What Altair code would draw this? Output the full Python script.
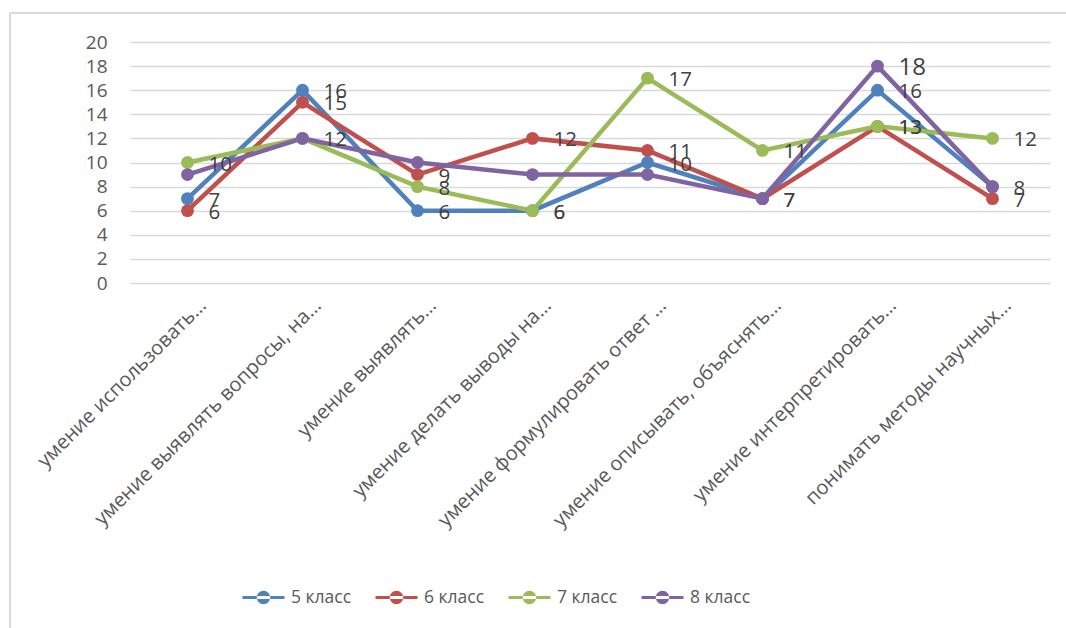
import altair as alt
import pandas as pd

# Skill categories on the x axis (labels shortened with an ellipsis)
categories = [
    "умение использовать…",
    "умение выявлять вопросы, на…",
    "умение выявлять…",
    "умение делать выводы на…",
    "умение формулировать ответ …",
    "умение описывать, объяснять…",
    "умение интерпретировать…",
    "понимать методы научных…",
]
series_names = ["5 класс", "6 класс", "7 класс", "8 класс"]
grade5 = [7, 16, 6, 6, 10, 7, 16, 8]
grade6 = [6, 15, 9, 12, 11, 7, 13, 7]
grade7 = [10, 12, 8, 6, 17, 11, 13, 12]
grade8 = [9, 12, 10, 9, 9, 7, 18, 8]
# value labels shown per series (8 класс only carries its peak label)
show_labels = {
    "5 класс": [True] * 8,
    "6 класс": [True] * 8,
    "7 класс": [True] * 8,
    "8 класс": [False, False, False, False, False, False, True, False],
}
colors = ["#4f81bd", "#c0504d", "#9bbb59", "#8064a2"]
y_ticks = list(range(0, 21, 2))

rows = []
for s_idx, (name, vals) in enumerate(zip(series_names, [grade5, grade6, grade7, grade8])):
    for c_idx, (cat, v) in enumerate(zip(categories, vals)):
        rows.append({
            "category": cat,
            "series": name,
            "value": v,
            "order": s_idx,
            "label": show_labels[name][c_idx],
            "big": name == "8 класс",
        })
df = pd.DataFrame(rows)

FONT = "Open Sans"
TEXT = "#595959"

x_enc = alt.X(
    "category:N",
    sort=categories,
    scale=alt.Scale(type="point", padding=0.5),
    axis=alt.Axis(
        title=None, labelAngle=-45, labelAlign="right", labelBaseline="middle",
        labelPadding=19, labelOffset=15, ticks=False, domain=False, grid=False,
        labelFont=FONT, labelFontSize=20, labelColor=TEXT, labelLimit=400,
    ),
)
y_enc = alt.Y(
    "value:Q",
    scale=alt.Scale(domain=[0, 20], nice=False),
    axis=alt.Axis(
        title=None, values=y_ticks, ticks=False, domain=False,
        gridColor="#d9d9d9", gridWidth=1.5, labelPadding=23,
        labelFont=FONT, labelFontSize=19, labelColor=TEXT,
    ),
)
color_scale = alt.Scale(domain=series_names, range=colors)

# line + circle legend glyph
legend_path = (
    "M-2,-0.15H2V0.15H-2Z "
    "M-0.64,0A0.64,0.64 0 1,0 0.64,0A0.64,0.64 0 1,0 -0.64,0Z"
)
legend = alt.Legend(
    title=None, orient="none", direction="horizontal",
    legendX=123, legendY=545, padding=0,
    symbolType=legend_path, symbolSize=441, symbolStrokeWidth=0,
    symbolOpacity=1,
    labelOffset=17, columnPadding=23,
    labelFont=FONT, labelFontSize=17.5, labelColor=TEXT,
)
color_enc = alt.Color("series:N", scale=color_scale, legend=legend)

base = alt.Chart(df)

lines = base.mark_line(strokeWidth=4.5).encode(
    x=x_enc, y=y_enc, color=color_enc, order=alt.Order("order:Q"),
)

points = base.mark_point(filled=True, size=165, opacity=1).encode(
    x=x_enc, y=y_enc, color=color_enc,
)

labels_small = base.transform_filter(
    (alt.datum.label == True) & (alt.datum.big == False)
).mark_text(align="left", baseline="middle", dx=21, dy=2, fontSize=20.5, font=FONT, color="#404040").encode(
    x=x_enc, y=y_enc, text=alt.Text("value:Q"),
)
labels_big = base.transform_filter(
    (alt.datum.label == True) & (alt.datum.big == True)
).mark_text(align="left", baseline="middle", dx=21, dy=2, fontSize=24, font=FONT, color="#404040").encode(
    x=x_enc, y=y_enc, text=alt.Text("value:Q"),
)

# thin outer frame (left and top edges)
frame_df = pd.DataFrame({"k": [0]})
frame_left = alt.Chart(frame_df).mark_rule(color="#d9d9d9", strokeWidth=2).encode(
    x=alt.value(-120), y=alt.value(-29), y2=alt.value(600),
)
frame_top = alt.Chart(frame_df).mark_rule(color="#d9d9d9", strokeWidth=2).encode(
    x=alt.value(-120), x2=alt.value(940), y=alt.value(-29),
)

chart = alt.layer(
    frame_left, frame_top, lines, points, labels_small, labels_big
).properties(
    width=920,
    height=241,
    padding={"left": 130, "top": 42, "right": 16, "bottom": 345},
    autosize=alt.AutoSizeParams(type="none"),
    background="white",
).configure_view(stroke=None)

chart.save("out.html", embed_options={"renderer": "svg", "actions": False})
